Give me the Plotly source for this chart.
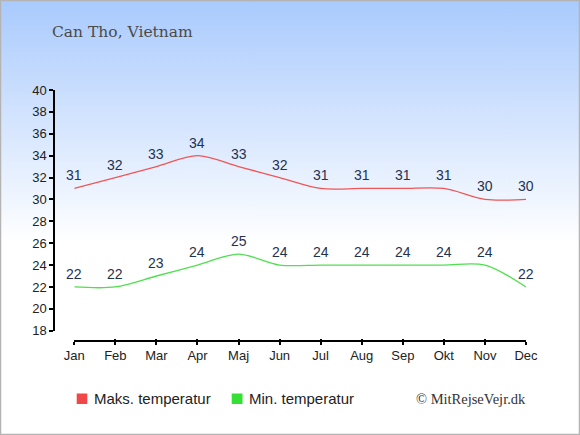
import base64
import plotly.graph_objects as go

months = ["Jan", "Feb", "Mar", "Apr", "Maj", "Jun", "Jul", "Aug", "Sep", "Okt", "Nov", "Dec"]
max_temp = [31, 32, 33, 34, 33, 32, 31, 31, 31, 31, 30, 30]
min_temp = [22, 22, 23, 24, 25, 24, 24, 24, 24, 24, 24, 22]
y_ticks = [18, 20, 22, 24, 26, 28, 30, 32, 34, 36, 38, 40]
title_text = "Can Tho, Vietnam"
legend_names = ["Maks. temperatur", "Min. temperatur"]
credit = "© MitRejseVejr.dk"

W, H = 580, 435
L, R, T, B = 54, 54, 90, 94
PW, PH = W - L - R, H - T - B

def px(x):
    return (x - L) / PW

def py(y):
    return (H - B - y) / PH

red = "#f05656"
green = "#4ee04e"
label_color = "#1f3252"

xi = list(range(len(months)))

fig = go.Figure()
fig.add_trace(go.Scatter(x=xi, y=max_temp, mode="lines", line=dict(color=red, width=1.3, shape="spline", smoothing=0.9),
                         name=legend_names[0], showlegend=False, hoverinfo="skip"))
fig.add_trace(go.Scatter(x=xi, y=min_temp, mode="lines", line=dict(color=green, width=1.3, shape="spline", smoothing=0.9),
                         name=legend_names[1], showlegend=False, hoverinfo="skip"))
# overlay axis for inward tick halves
fig.add_trace(go.Scatter(x=xi, y=max_temp, xaxis="x2", mode="none", showlegend=False, hoverinfo="skip"))

annotations = []
for i, v in enumerate(max_temp):
    annotations.append(dict(x=i, y=v, text=str(v), showarrow=False, yshift=13, xref="x", yref="y",
                            font=dict(family="Liberation Sans, Arial", size=14, color=label_color)))
for i, v in enumerate(min_temp):
    annotations.append(dict(x=i, y=v, text=str(v), showarrow=False, yshift=13, xref="x", yref="y",
                            font=dict(family="Liberation Sans, Arial", size=14, color=label_color)))

annotations.append(dict(x=px(50), y=py(32.5), xref="paper", yref="paper", text=title_text, showarrow=False,
                        xanchor="left", yanchor="middle",
                        font=dict(family="DejaVu Serif", size=15.5, color="#4a4a4a")))
annotations.append(dict(x=px(92), y=py(398.5), xref="paper", yref="paper", text=legend_names[0], showarrow=False,
                        xanchor="left", yanchor="middle",
                        font=dict(family="Liberation Sans, Arial", size=15, color="#222222")))
annotations.append(dict(x=px(247), y=py(398.5), xref="paper", yref="paper", text=legend_names[1], showarrow=False,
                        xanchor="left", yanchor="middle",
                        font=dict(family="Liberation Sans, Arial", size=15, color="#222222")))
annotations.append(dict(x=px(528), y=py(398.5), xref="paper", yref="paper", text=credit, showarrow=False,
                        xanchor="right", yanchor="middle",
                        font=dict(family="Liberation Serif", size=14.5, color="#333333")))

shapes = [
    dict(type="rect", xref="paper", yref="paper", x0=px(76.7), x1=px(87.3), y0=py(393.5), y1=py(404),
         fillcolor="#f04848", line=dict(width=0), layer="above"),
    dict(type="rect", xref="paper", yref="paper", x0=px(231.7), x1=px(242.5), y0=py(393.5), y1=py(404),
         fillcolor="#33e033", line=dict(width=0), layer="above"),
    dict(type="rect", xref="paper", yref="paper", x0=px(0.5), x1=px(579.5), y0=py(434.5), y1=py(0.5),
         line=dict(color="#b4b4b4", width=1.5), fillcolor="rgba(0,0,0,0)", layer="above"),
]

svg = ('<svg xmlns="http://www.w3.org/2000/svg" width="580" height="435" preserveAspectRatio="none">'
       '<defs><linearGradient id="g" x1="0" y1="0" x2="0" y2="1">'
       '<stop offset="0" stop-color="#a9cafd"/><stop offset="0.56" stop-color="#ffffff"/>'
       '</linearGradient></defs><rect width="580" height="435" fill="url(#g)"/></svg>')
src = "data:image/svg+xml;base64," + base64.b64encode(svg.encode()).decode()

x_dom = [px(74.3), 1.0]
fig.update_layout(
    width=W, height=H,
    margin=dict(l=L, r=R, t=T, b=B),
    paper_bgcolor="white",
    plot_bgcolor="rgba(0,0,0,0)",
    showlegend=False,
    images=[dict(source=src, xref="paper", yref="paper", x=px(0), y=py(0), sizex=W / PW, sizey=H / PH,
                 sizing="stretch", layer="below", xanchor="left", yanchor="top")],
    xaxis=dict(domain=x_dom, range=[0, 11], tickmode="array", tickvals=xi, ticktext=months,
               anchor="free", position=0, showline=True, linecolor="#000", linewidth=1.5,
               ticks="outside", ticklen=3, tickwidth=1.5, tickcolor="#000", showgrid=False, zeroline=False,
               tickfont=dict(family="Liberation Sans, Arial", size=13, color="#222")),
    xaxis2=dict(domain=x_dom, range=[0, 11], tickmode="array", tickvals=xi, showticklabels=False,
                anchor="free", position=0, overlaying="x", showline=False,
                ticks="inside", ticklen=2, tickwidth=1.5, tickcolor="#000", showgrid=False, zeroline=False),
    yaxis=dict(domain=[py(330.7), 1.0], range=[18, 40], tickmode="array", tickvals=y_ticks,
               anchor="free", position=0, showline=True, linecolor="#000", linewidth=1.5,
               ticks="outside", ticklen=4, tickwidth=1.5, tickcolor="#000", showgrid=False, zeroline=False,
               tickfont=dict(family="Liberation Sans, Arial", size=13, color="#222")),
    annotations=annotations,
    shapes=shapes,
)

fig.write_html("out.html", config={"displayModeBar": False},
               post_script="document.body.style.margin='0';document.body.style.overflow='hidden';")
